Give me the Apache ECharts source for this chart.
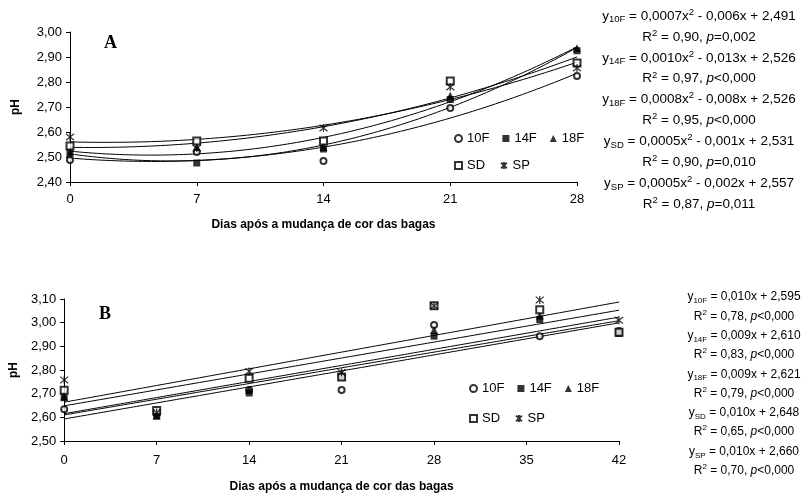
<!DOCTYPE html>
<html><head><meta charset="utf-8">
<script src="https://cdn.jsdelivr.net/npm/echarts@6/dist/echarts.min.js"></script>
<style>html,body{margin:0;padding:0;background:#fff}#c{width:804px;height:494px}</style>
</head><body><div id="c"></div>
<script>
// ---- Panel A data ----
const daysA = [0, 7, 14, 21, 28];
const a10F = [2.488, 2.52, 2.484, 2.696, 2.824];
const a14F = [2.52, 2.476, 2.532, 2.73, 2.925];
const a18F = [2.516, 2.54, 2.54, 2.745, 2.935];
const aSD  = [2.544, 2.564, 2.564, 2.804, 2.876];
const aSP  = [2.58, 2.535, 2.616, 2.78, 2.856];
// ---- Panel B data ----
const daysB = [0, 7, 14, 21, 28, 36, 42];
const b10F = [2.634, 2.62, 2.715, 2.716, 2.99, 2.943, 2.965];
const b14F = [2.683, 2.607, 2.703, 2.77, 2.943, 3.013, 2.955];
const b18F = [2.688, 2.607, 2.717, 2.775, 2.969, 3.03, 2.96];
const bSD  = [2.714, 2.629, 2.765, 2.77, 3.071, 3.055, 2.96];
const bSP  = [2.758, 2.62, 2.794, 2.79, 3.071, 3.096, 3.01];
const seriesNames = ['10F', '14F', '18F', 'SD', 'SP'];
// ---- Equation texts ----
const eqA = [
  'y{sub|10F} = 0,0007x{sup|2} - 0,006x + 2,491', 'R{sup|2} = 0,90, {it|p}=0,002',
  'y{sub|14F} = 0,0010x{sup|2} - 0,013x + 2,526', 'R{sup|2} = 0,97, {it|p}<0,000',
  'y{sub|18F} = 0,0008x{sup|2} - 0,008x + 2,526', 'R{sup|2} = 0,95, {it|p}<0,000',
  'y{sub|SD} = 0,0005x{sup|2} - 0,001x + 2,531', 'R{sup|2} = 0,90, {it|p}=0,010',
  'y{sub|SP} = 0,0005x{sup|2} - 0,002x + 2,557', 'R{sup|2} = 0,87, {it|p}=0,011'
];
const eqB = [
  'y{sub|10F} = 0,010x + 2,595', 'R{sup|2} = 0,78, {it|p}<0,000',
  'y{sub|14F} = 0,009x + 2,610', 'R{sup|2} = 0,83, {it|p}<0,000',
  'y{sub|18F} = 0,009x + 2,621', 'R{sup|2} = 0,79, {it|p}<0,000',
  'y{sub|SD} = 0,010x + 2,648', 'R{sup|2} = 0,65, {it|p}<0,000',
  'y{sub|SP} = 0,010x + 2,660', 'R{sup|2} = 0,70, {it|p}<0,000'
];
const xTitle = 'Dias após a mudança de cor das bagas';

const FONT = "'Liberation Sans', Arial, sans-serif";

// least-squares polynomial fit (trend lines from the data)
function polyfit(xs, ys, deg) {
  const n = deg + 1;
  const M = [];
  for (let i = 0; i < n; i++) {
    const row = [];
    for (let j = 0; j < n; j++) row.push(xs.reduce((s, x) => s + Math.pow(x, i + j), 0));
    row.push(xs.reduce((s, x, k) => s + Math.pow(x, i) * ys[k], 0));
    M.push(row);
  }
  for (let i = 0; i < n; i++) {
    let p = i;
    for (let r = i + 1; r < n; r++) if (Math.abs(M[r][i]) > Math.abs(M[p][i])) p = r;
    [M[i], M[p]] = [M[p], M[i]];
    for (let r = 0; r < n; r++) {
      if (r === i) continue;
      const f = M[r][i] / M[i][i];
      for (let c = i; c <= n; c++) M[r][c] -= f * M[i][c];
    }
  }
  return M.map((row, i) => row[n] / row[i]);
}
function fitCurve(xs, ys, deg, x0, x1) {
  const c = polyfit(xs, ys, deg);
  const pts = [];
  for (let x = x0; x <= x1 + 1e-9; x += 0.25) {
    let y = 0;
    c.forEach((ci, i) => { y += ci * Math.pow(x, i); });
    pts.push([x, y]);
  }
  return pts;
}

const star = 'path://M-1,-1L1,1M1,-1L-1,1M0,-1.2L0,1.2';
const symbols = {
  '10F': { symbol: 'emptyCircle', symbolSize: 6, itemStyle: { color: '#000', borderWidth: 1 } },
  '14F': { symbol: 'rect', symbolSize: 7, itemStyle: { color: '#000' } },
  '18F': { symbol: 'triangle', symbolSize: 8, itemStyle: { color: '#000' } },
  'SD':  { symbol: 'emptyRect', symbolSize: 7, itemStyle: { color: '#000', borderWidth: 1 } },
  'SP':  { symbol: star, symbolSize: 8, itemStyle: { color: 'rgba(0,0,0,0)', borderColor: '#000', borderWidth: 1.2 } }
};

const dataA = [a10F, a14F, a18F, aSD, aSP];
const dataB = [b10F, b14F, b18F, bSD, bSP];

const series = [];
function addPanel(idx, days, data, deg, xmax) {
  data.forEach((vals) => {
    series.push({
      type: 'line', xAxisIndex: idx, yAxisIndex: idx, silent: true, showSymbol: false,
      symbol: 'none', lineStyle: { color: '#000', width: 1 }, z: 1,
      data: fitCurve(days, vals, deg, 0, xmax)
    });
  });
  data.forEach((vals, k) => {
    const nm = seriesNames[k];
    series.push(Object.assign({
      type: 'scatter', name: nm, xAxisIndex: idx, yAxisIndex: idx, z: 3,
      data: days.map((d, i) => [d, vals[i]])
    }, symbols[nm]));
  });
}
addPanel(0, daysA, dataA, 2, 28);
addPanel(1, daysB, dataB, 1, 42);

function xAxis(idx, max, gap, margin) {
  return {
    type: 'value', gridIndex: idx, min: 0, max: max, interval: 7,
    name: xTitle, nameLocation: 'middle', nameGap: gap,
    nameTextStyle: { fontFamily: FONT, fontSize: 12, fontWeight: 'bold', color: '#000' },
    axisLine: { lineStyle: { color: '#000', width: 1 } },
    axisTick: { length: 4, lineStyle: { color: '#000' } },
    axisLabel: { fontFamily: FONT, fontSize: 13, color: '#000', margin: margin },
    splitLine: { show: false }
  };
}
function yAxis(idx, min, max, gap) {
  return {
    type: 'value', gridIndex: idx, min: min, max: max, interval: 0.1,
    name: 'pH', nameLocation: 'middle', nameGap: gap, nameRotate: 90,
    nameTextStyle: { fontFamily: FONT, fontSize: 12, fontWeight: 'bold', color: '#000' },
    axisLine: { show: true, lineStyle: { color: '#000', width: 1 } },
    axisTick: { show: true, length: 4, lineStyle: { color: '#000' } },
    axisLabel: { fontFamily: FONT, fontSize: 13, color: '#000', margin: 8,
      formatter: v => v.toFixed(2).replace('.', ',') },
    splitLine: { show: false }
  };
}

const legendBase = {
  itemWidth: 7, itemHeight: 7, selectedMode: false, orient: 'horizontal',
  textStyle: { fontFamily: FONT, fontSize: 13, color: '#000' }, padding: 0, itemGap: 13
};

const rich = (fs) => ({
  sub: { fontFamily: FONT, fontSize: fs - 4, verticalAlign: 'bottom', lineHeight: fs + 4, color: '#000' },
  sup: { fontFamily: FONT, fontSize: fs - 4, verticalAlign: 'top', lineHeight: fs + 4, color: '#000' },
  it: { fontFamily: FONT, fontSize: fs, fontStyle: 'italic', lineHeight: fs + 4, color: '#000' }
});

const graphics = [];
graphics.push({ type: 'text', left: 104, top: 34, style: { text: 'A', font: "bold 18px 'Liberation Serif', 'Times New Roman', serif", fill: '#000' } });
graphics.push({ type: 'text', left: 99, top: 305, style: { text: 'B', font: "bold 18px 'Liberation Serif', 'Times New Roman', serif", fill: '#000' } });
eqA.forEach((t, i) => {
  graphics.push({ type: 'text', x: 699, y: 16 + i * 20.9, style: {
    text: t, fill: '#000', font: '13.5px ' + FONT, align: 'center', verticalAlign: 'middle', lineHeight: 17, rich: rich(13.5)
  } });
});
eqB.forEach((t, i) => {
  graphics.push({ type: 'text', x: 744, y: 297 + i * 19.3, style: {
    text: t, fill: '#000', font: '12px ' + FONT, align: 'center', verticalAlign: 'middle', lineHeight: 16, rich: rich(12)
  } });
});

const chart = echarts.init(document.getElementById('c'), null, { renderer: 'canvas' });
chart.setOption({
  animation: false,
  backgroundColor: '#fff',
  grid: [
    { left: 70, top: 32, width: 507, height: 150, containLabel: false },
    { left: 63, top: 299, width: 556, height: 145, containLabel: false }
  ],
  xAxis: [xAxis(0, 28, 37, 11), xAxis(1, 42, 40, 13)],
  yAxis: [yAxis(0, 2.4, 3.0, 48), yAxis(1, 2.5, 3.1, 41)],
  legend: [
    Object.assign({}, legendBase, { data: ['10F', '14F', '18F'], left: 454, top: 132 }),
    Object.assign({}, legendBase, { data: ['SD', 'SP'], left: 454, top: 159, itemGap: 15 }),
    Object.assign({}, legendBase, { data: ['10F', '14F', '18F'], left: 469, top: 382 }),
    Object.assign({}, legendBase, { data: ['SD', 'SP'], left: 469, top: 412, itemGap: 15 })
  ],
  graphic: graphics,
  series: series
});
</script>
</body></html>
